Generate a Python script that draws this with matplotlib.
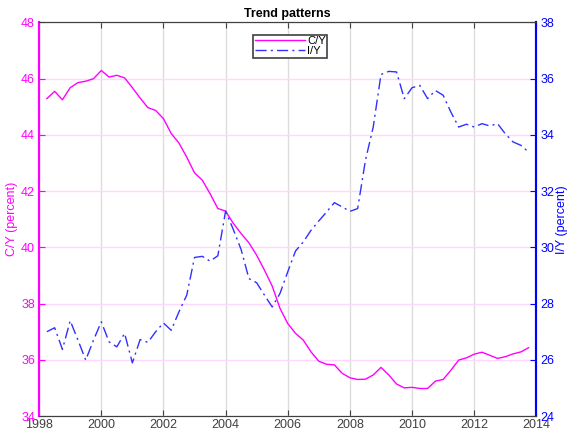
import matplotlib
matplotlib.use('Agg')
import matplotlib.pyplot as plt
import numpy as np

plt.rcParams['font.family'] = ['Liberation Sans', 'DejaVu Sans']

# quarterly observations, 1998Q2 .. 2013Q4
t = 1998.25 + 0.25 * np.arange(63)

c_y = [45.29, 45.55, 45.25, 45.68, 45.86, 45.91, 46.00, 46.29, 46.06, 46.12, 46.03,
       45.68, 45.31, 44.97, 44.87, 44.58, 44.05, 43.71, 43.21, 42.65, 42.39, 41.91,
       41.38, 41.29,
       40.85, 40.49, 40.16, 39.72, 39.19, 38.62, 37.83, 37.29, 36.94, 36.70, 36.28, 35.95,
       35.84, 35.82, 35.52, 35.36, 35.30, 35.31, 35.46, 35.73, 35.46, 35.14, 35.00,
       35.02, 34.98, 34.98, 35.24, 35.30, 35.63, 35.99, 36.07, 36.20, 36.27, 36.16,
       36.05, 36.11, 36.21, 36.28, 36.43]

i_y = [27.00, 27.14, 26.37, 27.39, 26.70, 25.99, 26.70, 27.35, 26.64, 26.46, 26.94,
       25.89, 26.72, 26.62, 27.00, 27.31, 27.05, 27.71, 28.30, 29.64, 29.68, 29.51,
       29.70, 31.29, 30.63, 29.92, 28.89, 28.74, 28.30, 27.88, 28.36, 29.13, 29.87,
       30.19, 30.61, 30.94, 31.26,
       31.59, 31.44, 31.28, 31.38, 33.10, 34.28, 36.15, 36.26, 36.24, 35.29, 35.68,
       35.76, 35.29, 35.58, 35.41, 34.81, 34.28, 34.38, 34.28, 34.40, 34.32, 34.40,
       34.04, 33.75, 33.63, 33.39]

mag = '#ff00ff'
blu = '#0000ff'
dark = '#404040'

fig = plt.figure(figsize=(5.67, 4.32), dpi=100)
ax = fig.add_axes([0.069, 0.037, 0.877, 0.911])
ax2 = ax.twinx()

ax.set_xlim(1998, 2014)
ax.set_ylim(34, 48)
ax2.set_ylim(24, 38)
ax.set_xticks(np.arange(1998, 2015, 2))
ax.set_yticks(np.arange(34, 49, 2))
ax2.set_yticks(np.arange(24, 39, 2))

# grid: grey verticals, pink horizontals
ax.xaxis.grid(True, color='#dcdcdc', lw=1)
ax.yaxis.grid(True, color='#ffd6ff', lw=1)
ax.set_axisbelow(True)

l1, = ax.plot(t, c_y, color=mag, lw=1, label='C/Y')
l2, = ax2.plot(t, i_y, color='#3030ff', lw=1, ls=(0, (8, 3, 1.5, 3)), label='I/Y')

ax.tick_params(axis='x', direction='in', top=True, colors=dark, labelcolor=dark,
               labelsize=9, length=4, pad=2)
ax.tick_params(axis='y', direction='in', colors=mag, labelcolor=mag, labelsize=9,
               length=4, pad=3)
ax2.tick_params(axis='y', direction='in', colors=blu, labelcolor=blu, labelsize=9,
                length=4, pad=3)

for a in (ax, ax2):
    a.spines['top'].set_color(dark)
    a.spines['bottom'].set_color(dark)
    a.spines['left'].set_color(mag)
    a.spines['right'].set_color(blu)
    a.spines['left'].set_linewidth(1.5)
    a.spines['right'].set_linewidth(1.5)

ax.set_ylabel('C/Y (percent)', color=mag, fontsize=9, labelpad=2)
ax2.set_ylabel('I/Y (percent)', color=blu, fontsize=9, labelpad=1)
ax.set_title('Trend patterns', fontsize=9, fontweight='bold', pad=4)

leg = ax2.legend([l1, l2], ['C/Y', 'I/Y'], loc='upper center',
                 bbox_to_anchor=(0.505, 0.983), fontsize=8, handlelength=4.5,
                 handletextpad=0.2, borderpad=0.15, labelspacing=0.0,
                 fancybox=False, framealpha=1, edgecolor=dark)
leg.get_frame().set_linewidth(1.2)

fig.savefig('out.png', dpi=100)
